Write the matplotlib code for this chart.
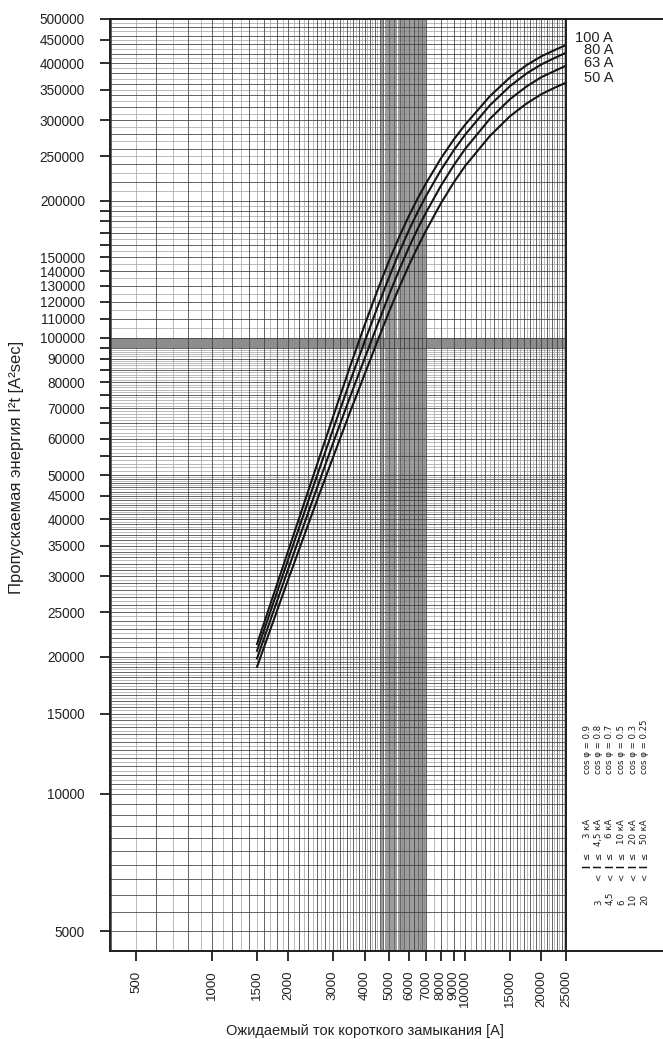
import numpy as np
import matplotlib
matplotlib.use("Agg")
import matplotlib.pyplot as plt
from matplotlib import font_manager
from matplotlib.ticker import NullLocator, FixedLocator, NullFormatter

plt.rcParams['font.family'] = ['Liberation Sans', 'DejaVu Sans']

W, H = 663, 1039

# prospective short-circuit current [A]
current_a = [1500, 2000, 2500, 3000, 3500, 4000, 4500, 5000, 5500, 6000, 6500, 7000,
             8000, 9000, 10000, 12500, 15000, 17500, 20000, 22500, 25000]

# let-through energy I2t [A2 s] per rated current
i2t_100 = [21200, 34180, 49500, 66990, 86260, 106500, 127100, 147600, 167100, 185500, 202600, 218200,
           247000, 272000, 293500, 338500, 372100, 396400, 414300, 427200, 438500]
i2t_80 = [20500, 32740, 46930, 62840, 80050, 97980, 116700, 135800, 154600, 172500, 189200, 204700,
          232900, 257600, 279100, 323300, 356100, 380100, 397700, 410500, 421800]
i2t_63 = [19720, 31170, 44200, 58620, 74010, 89990, 106800, 124300, 141500, 158200, 173800, 188300,
          215100, 238800, 259700, 301900, 333400, 356000, 372900, 384500, 395100]
i2t_50 = [18910, 29570, 41580, 54600, 68580, 83070, 98380, 114100, 129500, 144500, 158600, 171900,
          196900, 219000, 238300, 276900, 305900, 326600, 342200, 353300, 362600]

curve_labels = ["100 A", "80 A", "63 A", "50 A"]

xtick_vals = [500, 1000, 1500, 2000, 3000, 4000, 5000, 6000, 7000, 8000, 9000, 10000, 15000, 20000, 25000]
ytick_vals = [5000, 10000, 15000, 20000, 25000, 30000, 35000, 40000, 45000, 50000, 60000, 70000,
              80000, 90000, 100000, 110000, 120000, 130000, 140000, 150000, 200000, 250000,
              300000, 350000, 400000, 450000, 500000]
ytick_minor = [55000, 65000, 75000, 85000, 95000, 160000, 170000, 180000, 190000]

range_low = ["", "3", "4,5", "6", "10", "20"]
range_high = ["3 кА", "4,5 кА", "6 кА", "10 кА", "20 кА", "50 кА"]
cos_phi = ["cos φ = 0.9", "cos φ = 0.8", "cos φ = 0.7", "cos φ = 0.5", "cos φ = 0.3", "cos φ = 0.25"]

XMIN, XMAX = 395, 25000
YMIN, YMAX = 4525, 500000


def fx(px):
    return px / W


def fy(py):
    return 1 - py / H


def seg(a, b, step):
    return np.arange(a, b + step / 2, step)


# narrow font for the small rotated block, if one is installed
installed = {f.name for f in font_manager.fontManager.ttflist}
narrow_family = 'Liberation Sans Narrow' if 'Liberation Sans Narrow' in installed else 'DejaVu Sans'

fig = plt.figure(figsize=(W / 100, H / 100), dpi=100)
ax = fig.add_axes([fx(110), fy(951), (566 - 110) / W, (951 - 19) / H])
ax.set_xscale('log')
ax.set_yscale('log')
ax.set_xlim(XMIN, XMAX)
ax.set_ylim(YMIN, YMAX)

BLACK = '#1e1e1e'
GRID_DARK = '#3a3a3a'
GRID_GRAY = '#a8a8a8'
GRID_BAND = '#8a8a8a'

# vertical grid
vx_black, vx_gray, vx_band = [], [], []
for v in seg(400, 4600, 100):
    (vx_black if v % 200 == 0 else vx_gray).append(v)
for v in seg(4650, 7000, 50):
    (vx_black if v % 250 == 0 else vx_band).append(v)
for v in seg(7500, 25000, 500):
    (vx_black if v % 1000 == 0 else vx_gray).append(v)

# horizontal grid
hy_black, hy_gray, hy_band = [], [], []
for v in seg(5000, 10000, 500):
    hy_black.append(v)
for v in seg(10250, 20000, 250):
    (hy_black if v % 500 == 0 else hy_gray).append(v)
for v in seg(20500, 50000, 500):
    (hy_black if v % 1000 == 0 else hy_gray).append(v)
for v in seg(51000, 95000, 1000):
    (hy_black if v % 5000 == 0 else hy_gray).append(v)
for v in seg(95250, 100000, 250):
    (hy_black if v % 5000 == 0 else hy_band).append(v)
for v in seg(105000, 200000, 5000):
    (hy_black if v % 10000 == 0 else hy_gray).append(v)
for v in seg(210000, 500000, 10000):
    (hy_black if v % 20000 == 0 else hy_gray).append(v)

ax.vlines(vx_gray, YMIN, YMAX, colors=GRID_GRAY, lw=0.55, zorder=1)
ax.hlines(hy_gray, XMIN, XMAX, colors=GRID_GRAY, lw=0.55, zorder=1)
ax.vlines(vx_band, YMIN, YMAX, colors=GRID_BAND, lw=0.6, zorder=1)
ax.hlines(hy_band, XMIN, XMAX, colors=GRID_BAND, lw=0.6, zorder=1)
ax.vlines(vx_black, YMIN, YMAX, colors=GRID_DARK, lw=0.55, zorder=2)
ax.hlines(hy_black, XMIN, XMAX, colors=GRID_DARK, lw=0.55, zorder=2)

# curves
for series in [i2t_100, i2t_80, i2t_63, i2t_50]:
    ax.plot(current_a, series, color='#151515', lw=1.5, zorder=3,
            solid_capstyle='butt', solid_joinstyle='round')

# ticks
ax.xaxis.set_major_locator(FixedLocator(xtick_vals))
ax.set_xticklabels([str(v) for v in xtick_vals])
ax.xaxis.set_minor_locator(NullLocator())
ax.yaxis.set_major_locator(FixedLocator(ytick_vals))
ax.set_yticklabels([str(v) for v in ytick_vals])
ax.yaxis.set_minor_locator(FixedLocator(ytick_minor))
ax.yaxis.set_minor_formatter(NullFormatter())

ax.tick_params(axis='x', which='major', direction='out', length=7, width=1.3,
               pad=7, labelsize=9.5, labelrotation=90, color=BLACK, labelcolor='#222')
ax.tick_params(axis='y', which='major', direction='out', length=7, width=1.3,
               pad=11, labelsize=9.8, color=BLACK, labelcolor='#222')
ax.tick_params(axis='y', which='minor', direction='out', length=7, width=1.3, color=BLACK)

for side in ['left', 'right']:
    ax.spines[side].set_linewidth(1.4)
    ax.spines[side].set_color(BLACK)
    ax.spines[side].set_zorder(4)
ax.spines['top'].set_visible(False)
ax.spines['bottom'].set_visible(False)
ext = (W - 110) / (566 - 110)
for yy in (0, 1):
    ax.plot([0, ext], [yy, yy], transform=ax.transAxes, clip_on=False,
            color=BLACK, lw=1.4, zorder=4)

# curve labels
label_y = [37.5, 50, 63, 77.5]
for txt, py in zip(curve_labels, label_y):
    fig.text(fx(613), fy(py), txt, ha='right', va='center', fontsize=10.5, color='#222')

# current range / cos phi block
col_x = [587, 598.5, 610, 621.5, 633, 644.5]
kw = dict(rotation=90, ha='center', fontsize=6.8, color='#1a1a1a',
          family=narrow_family, stretch='condensed')
for i, cx in enumerate(col_x):
    if range_low[i]:
        fig.text(fx(cx), fy(905), range_low[i], va='bottom', **kw)
        fig.text(fx(cx), fy(877), "<", va='center', **kw)
    fig.text(fx(cx), fy(867), "I", va='center', rotation=90, ha='center',
             fontsize=7.5, fontweight='bold', color='#111')
    fig.text(fx(cx), fy(856), "≤", va='center', **kw)
    fig.text(fx(cx), fy(819), range_high[i], va='top', **kw)
    fig.text(fx(cx), fy(774), cos_phi[i], va='bottom', **kw)

# axis titles
fig.text(fx(365), fy(1031), "Ожидаемый ток короткого замыкания [A]",
         ha='center', va='center', fontsize=10.5, color='#222')
fig.text(fx(17), fy(467), "Пропускаемая энергия I²t [A²sec]", rotation=90,
         ha='center', va='center', fontsize=12, color='#222')

fig.savefig("out.png", dpi=100)
